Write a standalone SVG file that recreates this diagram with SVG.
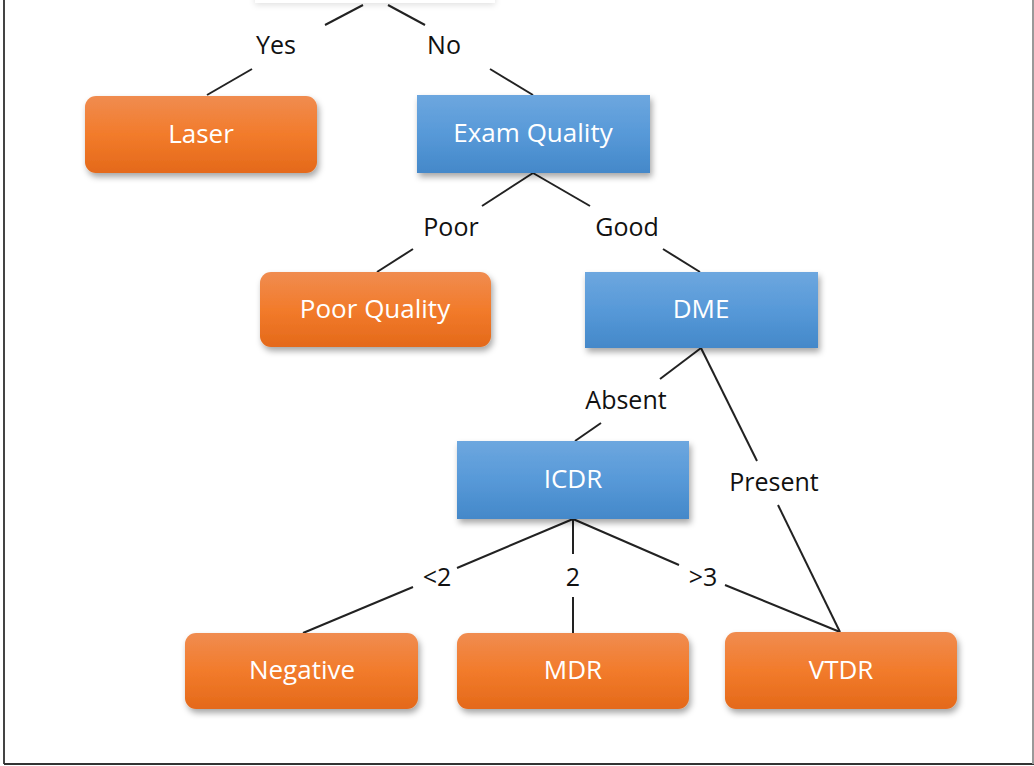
<svg xmlns="http://www.w3.org/2000/svg" width="1034" height="766" viewBox="0 0 1034 766">
<defs>
<linearGradient id="gOrange" x1="0" y1="0" x2="0" y2="1">
<stop offset="0" stop-color="#F08C50"/>
<stop offset="0.5" stop-color="#F27B2B"/>
<stop offset="1" stop-color="#E4691A"/>
</linearGradient>
<linearGradient id="gBlue" x1="0" y1="0" x2="0" y2="1">
<stop offset="0" stop-color="#6DA7DF"/>
<stop offset="0.5" stop-color="#5799D8"/>
<stop offset="1" stop-color="#4488C9"/>
</linearGradient>
<filter id="shadow" x="-10%" y="-20%" width="125%" height="150%">
<feDropShadow dx="2" dy="4" stdDeviation="3" flood-color="#000" flood-opacity="0.35"/>
</filter>
<filter id="softShadow" x="-10%" y="-50%" width="120%" height="200%">
<feDropShadow dx="0" dy="2" stdDeviation="3" flood-color="#000" flood-opacity="0.12"/>
</filter>
</defs>
<style>
.orange{fill:url(#gOrange);filter:url(#shadow)}
.blue{fill:url(#gBlue);filter:url(#shadow)}
.ntext{font-family:"Open Sans","Liberation Sans",sans-serif;font-size:26px;fill:#fff;text-anchor:middle}
.lbl{font-family:"Open Sans","Liberation Sans",sans-serif;font-size:25px;fill:#111;text-anchor:middle}
.conn line{stroke:#222;stroke-width:2}
.frame{stroke-width:2;fill:none}
</style>
<rect width="1034" height="766" fill="#fff"/>
<line class="frame" x1="4" y1="0" x2="4" y2="764" stroke="#444"/>
<line class="frame" x1="4" y1="764" x2="1034" y2="764" stroke="#333"/>
<line class="frame" x1="1033" y1="0" x2="1033" y2="764" stroke="#999"/>

<g id="root"><rect x="255" y="-40" width="240" height="43" fill="#fff" filter="url(#softShadow)"/></g>

<g id="connectors" class="conn">
<line x1="363" y1="5" x2="325" y2="25"/><line x1="252" y1="69" x2="207" y2="95"/>
<line x1="388" y1="5" x2="425" y2="25"/><line x1="490" y1="69" x2="533" y2="95"/>
<line x1="533" y1="173" x2="482" y2="206"/><line x1="413" y1="249" x2="377" y2="272"/>
<line x1="533" y1="173" x2="590" y2="206"/><line x1="663" y1="249" x2="700" y2="272"/>
<line x1="701" y1="348" x2="660" y2="379"/><line x1="601" y1="423" x2="575" y2="441"/>
<line x1="701" y1="348" x2="757" y2="461"/><line x1="778" y1="505" x2="840" y2="632"/>
<line x1="573" y1="519" x2="457" y2="568"/><line x1="413" y1="587" x2="303" y2="633"/>
<line x1="573" y1="519" x2="573" y2="554"/><line x1="573" y1="597" x2="573" y2="633"/>
<line x1="573" y1="519" x2="679" y2="565"/><line x1="725" y1="585" x2="840" y2="632"/>
</g>

<g id="labels">
<text class="lbl" x="276" y="54">Yes</text>
<text class="lbl" x="444" y="54">No</text>
<text class="lbl" x="451" y="236">Poor</text>
<text class="lbl" x="627" y="236">Good</text>
<text class="lbl" x="626" y="409">Absent</text>
<text class="lbl" x="774" y="491">Present</text>
<text class="lbl" x="437" y="586">&lt;2</text>
<text class="lbl" x="573" y="586">2</text>
<text class="lbl" x="703" y="586">&gt;3</text>
</g>

<g id="laser"><rect class="orange" x="85" y="96" width="232" height="77" rx="11"/><text class="ntext" x="201" y="143">Laser</text></g>
<g id="exam-quality"><rect class="blue" x="417" y="95" width="233" height="78"/><text class="ntext" x="533" y="142">Exam Quality</text></g>
<g id="poor-quality"><rect class="orange" x="260" y="272" width="231" height="75" rx="11"/><text class="ntext" x="375" y="318">Poor Quality</text></g>
<g id="dme"><rect class="blue" x="585" y="272" width="233" height="76"/><text class="ntext" x="701" y="318">DME</text></g>
<g id="icdr"><rect class="blue" x="457" y="441" width="232" height="78"/><text class="ntext" x="573" y="488">ICDR</text></g>
<g id="negative"><rect class="orange" x="185" y="633" width="233" height="76" rx="11"/><text class="ntext" x="302" y="679">Negative</text></g>
<g id="mdr"><rect class="orange" x="457" y="633" width="232" height="76" rx="11"/><text class="ntext" x="573" y="679">MDR</text></g>
<g id="vtdr"><rect class="orange" x="725" y="632" width="232" height="77" rx="11"/><text class="ntext" x="841" y="679">VTDR</text></g>
</svg>
